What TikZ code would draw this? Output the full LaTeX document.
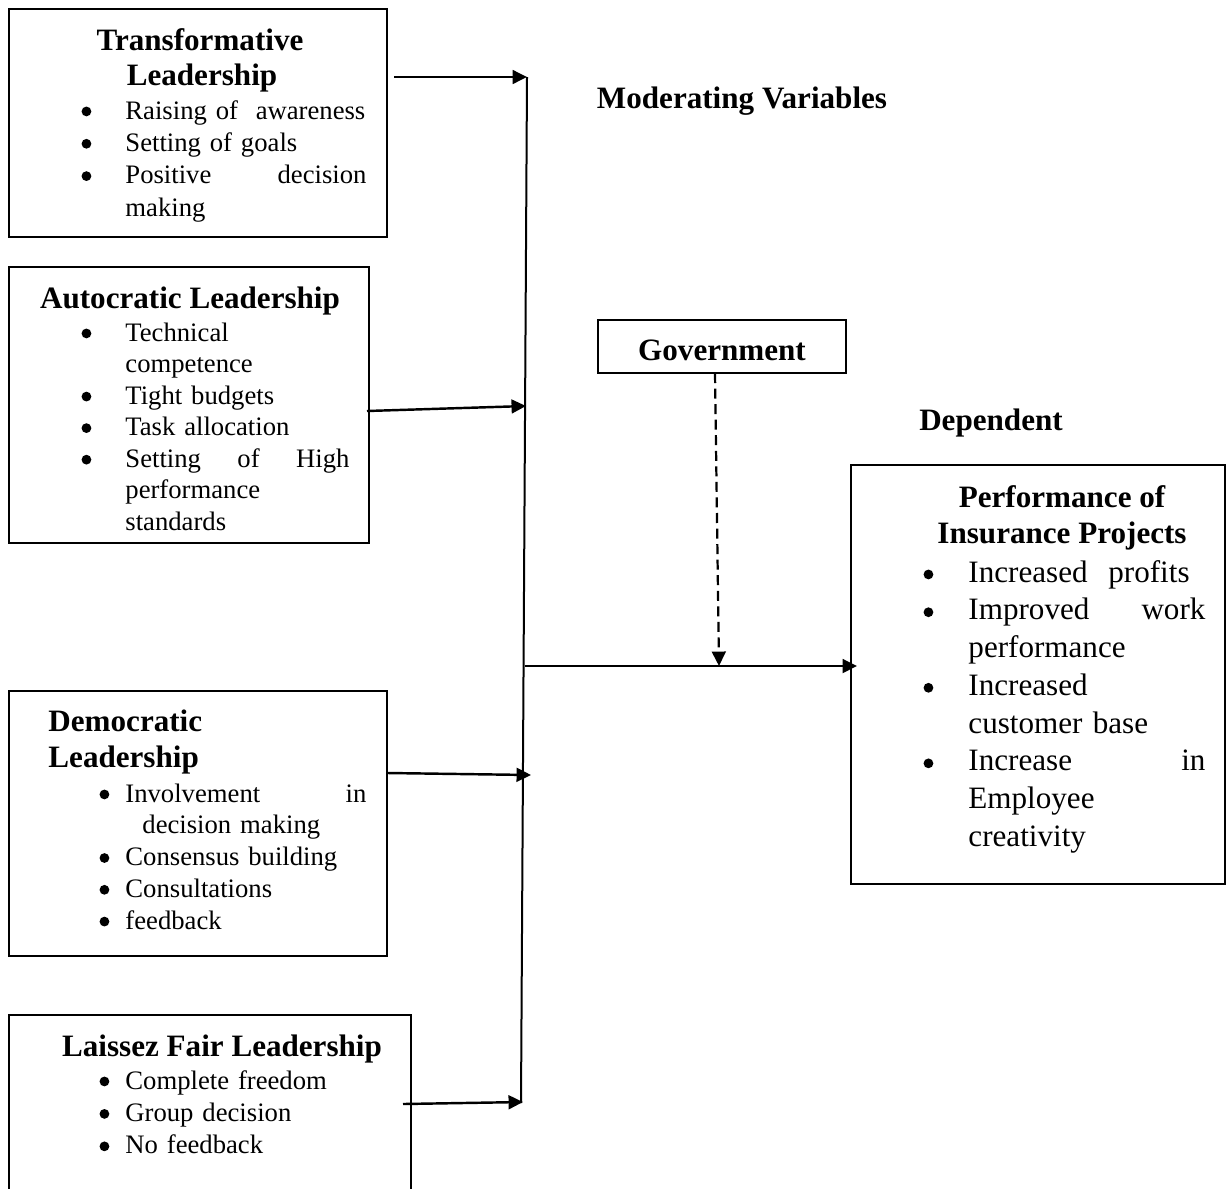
\documentclass[tikz,border=0pt]{standalone}
\usepackage{fontspec}
\setmainfont{Liberation Serif}
\usetikzlibrary{arrows.meta,fit}
\newlength\bgap
\newcommand\bdot{\tikz[baseline=0pt]\fill (0pt,3.4pt) circle (2.2pt);}
\newcommand\bul[1]{\noindent\llap{\makebox[0pt]{\bdot}\hspace{\bgap}}#1\par}
\begin{document}
\begin{tikzpicture}[x=0.45pt,y=-0.45pt,
  box/.style={draw,line width=0.9pt,inner sep=0pt},
  hd/.style={font=\fontsize{14}{16}\selectfont\bfseries,inner sep=0pt,anchor=base},
  lst/.style={inner sep=0pt,anchor=base west,text width=#1},
  conn/.style={line width=1.1pt,-{Triangle[length=6.5pt,width=6.2pt]}},
  bus/.style={line width=0.9pt},
  dsh/.style={line width=1pt,dash pattern=on 4.5pt off 2.5pt,-{Triangle[length=6.5pt,width=6.2pt]}}
]
\useasboundingbox (0,0) rectangle (1227,1188);
\clip (0,0) rectangle (1227,1188);
\fill[white] (0,0) rectangle (1227,1188);

% boxes
\node[box,fit={(9,9) (387,237)}] (b1) {};
\node[box,fit={(9,267) (369,543)}] (b2) {};
\node[box,fit={(9,691) (387,956)}] (b3) {};
\node[box,fit={(9,1015) (411,1215)}] (b4) {};
\node[box,fit={(598,320) (846,373)}] (gov) {};
\node[box,fit={(851,465) (1225,884)}] (perf) {};

% titles
\node[hd] (t1a) at (200,50) {Transformative};
\node[hd] (t1b) at (202,85) {Leadership};
\node[hd] (t2) at (190,308) {Autocratic Leadership};
\node[hd,anchor=base west] (t3a) at (48,731) {Democratic};
\node[hd,anchor=base west] (t3b) at (48,767) {Leadership};
\node[hd] (t4) at (222,1056) {Laissez Fair Leadership};
\node[hd] (tg) at (722,360) {Government};
\node[hd] (t5a) at (1062,507) {Performance of};
\node[hd] (t5b) at (1062,543) {Insurance Projects};
\node[hd] (mod) at (742,108) {Moderating Variables};
\node[hd] (dep) at (991,430) {Dependent};

% lists
\node[lst=108.45pt,font=\fontsize{12}{14.55}\selectfont] (l1) at (125,119)
 {\setlength\bgap{17.55pt}\bul{Raising of\ \ awareness}\bul{Setting of goals}\bul{Positive\hfill decision\\making}};
\node[lst=100.8pt,font=\fontsize{12}{14.2}\selectfont] (l2) at (125,341)
 {\setlength\bgap{17.55pt}\bul{Technical\\competence}\bul{Tight budgets}\bul{Task allocation}\bul{Setting\hfill of\hfill High\\performance\\standards}};
\node[lst=108.45pt,font=\fontsize{12}{14.3}\selectfont] (l3) at (125,802)
 {\setlength\bgap{9.45pt}\bul{Involvement\hfill in\\\hspace*{7.65pt}decision making}\bul{Consensus building}\bul{Consultations}\bul{feedback}};
\node[lst=130pt,font=\fontsize{12}{14.6}\selectfont] (l4) at (125,1089)
 {\setlength\bgap{9.45pt}\bul{Complete freedom}\bul{Group decision}\bul{No feedback}};
\node[lst=106.65pt,font=\fontsize{14}{17}\selectfont] (l5) at (968,582)
 {\setlength\bgap{18pt}\bul{Increased\ \ profits}\bul{Improved\hfill work\\performance}\bul{Increased\\customer base}\bul{Increase\hfill in\\Employee\\creativity}};

% connectors
\coordinate (busT) at (527,77);
\coordinate (busB) at (521,1103);
\draw[bus] (busT) -- (busB);
\coordinate (a1) at (394,77);
\draw[conn] (a1) -- (busT);
\coordinate (a2s) at (367,411);
\coordinate (a2e) at (526,406);
\draw[conn] (a2s) -- (a2e);
\coordinate (a3s) at (388,773);
\coordinate (a3e) at (531,775);
\draw[conn] (a3s) -- (a3e);
\coordinate (a4s) at (403,1104);
\coordinate (a4e) at (523,1102);
\draw[conn] (a4s) -- (a4e);
\coordinate (ms) at (525,666);
\coordinate (me) at (857,666);
\draw[conn] (ms) -- (me);
\coordinate (ds) at (715,373);
\coordinate (de) at (719,666);
\draw[dsh] (ds) -- (de);
\end{tikzpicture}
\end{document}
